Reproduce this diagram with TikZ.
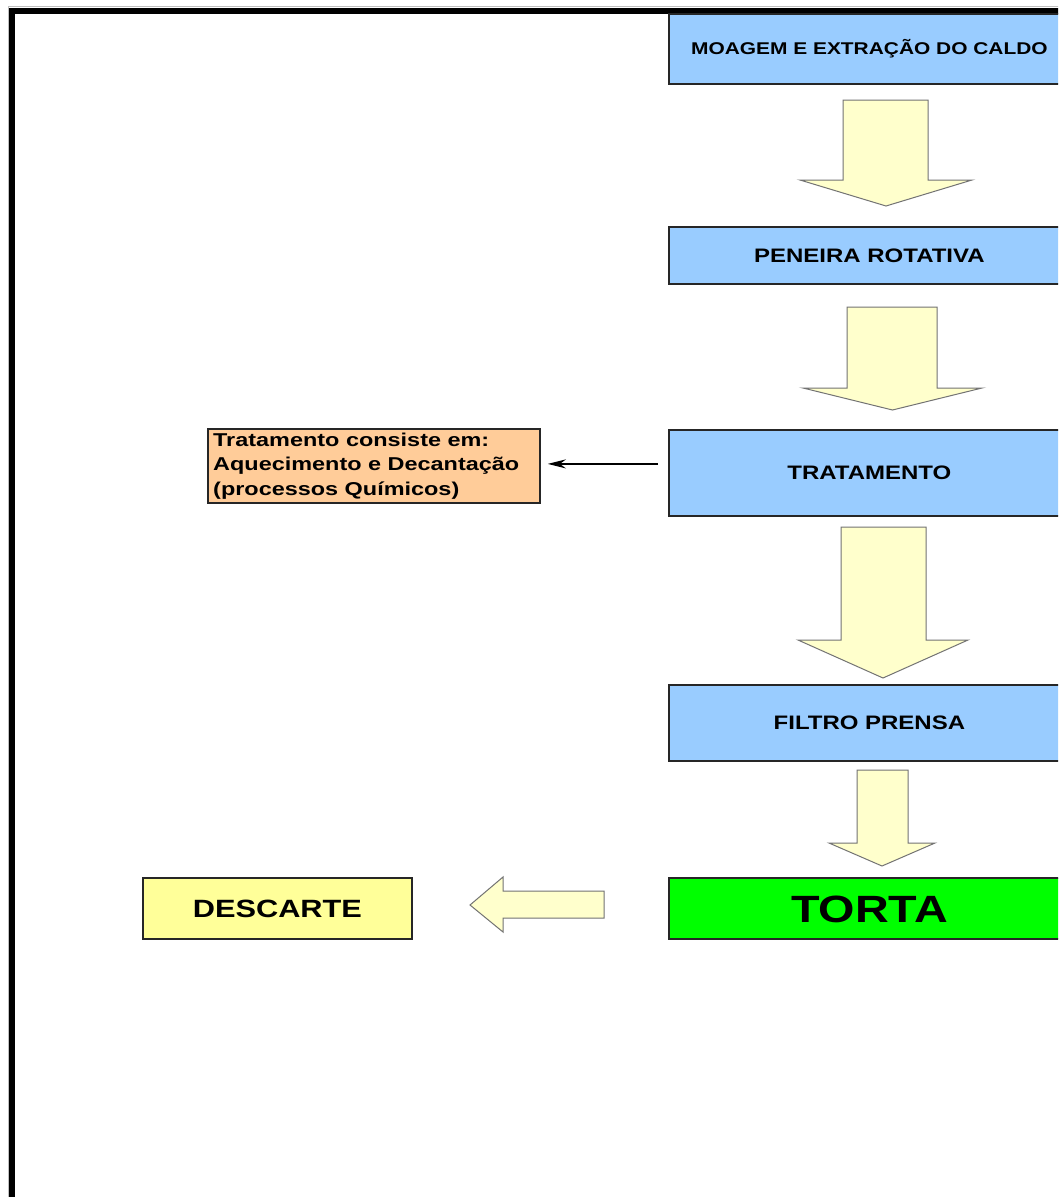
\documentclass[tikz,border=0pt]{standalone}
\usepackage{fontspec}
\setmainfont{Liberation Sans}
\usepackage{graphicx}
\usetikzlibrary{arrows.meta}
\definecolor{boxblue}{HTML}{99CCFF}
\definecolor{arrowfill}{HTML}{FFFFCC}
\definecolor{infofill}{HTML}{FFCC99}
\definecolor{descfill}{HTML}{FFFF99}
\definecolor{tortafill}{HTML}{00FF00}
\newcommand\widetxt[1]{\scalebox{1.23}[1]{#1}}
% down block arrow: x1 x2 (shaft), ytop, ybase, hx1 hx2 (head), ytip
\newcommand\blockdown[7]{%
  \draw[blockarrow] (#1,#3) -- (#2,#3) -- (#2,#4) -- (#6,#4) -- ({(#5+#6)/2},#7)
    -- (#5,#4) -- (#1,#4) -- cycle;}
\begin{document}
\begin{tikzpicture}[x=1pt,y=-1pt,
  stagebox/.style={draw=black!85, line width=1.8pt, fill=boxblue, inner sep=0pt,
    anchor=north west, minimum width=401pt, text depth=0pt},
  capfont/.style={font=\fontsize{#1}{#1}\selectfont\bfseries, text height=0.716*#1 pt},
  blockarrow/.style={draw=black!55, line width=1pt, fill=arrowfill, line join=miter},
  thinarrow/.style={line width=2.2pt, -{Stealth[length=18pt,width=9pt]}},
]
\useasboundingbox (0,0) rectangle (1058,1197);
\clip (0,0) rectangle (1058,1197);
\fill[white] (0,0) rectangle (1058,1197);
% frame
\draw[black!25, line width=1pt] (8,1210) -- (8,6.5) -- (1070,6.5);
\draw[line width=6pt] (12,1210) -- (12,10.5) -- (1070,10.5);

% stage boxes
\node[stagebox, minimum height=70pt, capfont=17] (moagem) at (668,13)
  {\widetxt{MOAGEM E EXTRAÇÃO DO CALDO}};
\node[stagebox, minimum height=57pt, capfont=19.5] (peneira) at (668,226)
  {\widetxt{PENEIRA ROTATIVA}};
\node[stagebox, minimum height=86pt, capfont=19.5] (trat) at (668,429)
  {\widetxt{TRATAMENTO}};
\node[stagebox, minimum height=76pt, capfont=19.5] (filtro) at (668,684)
  {\widetxt{FILTRO PRENSA}};
\node[stagebox, fill=tortafill, minimum height=61pt, capfont=38] (torta) at (668,877)
  {\widetxt{TORTA}};
\node[stagebox, fill=descfill, minimum width=269pt, minimum height=61pt, capfont=25] (desc) at (142,877)
  {\widetxt{DESCARTE}};

% info box
\node[draw=black!85, line width=1.8pt, fill=infofill, anchor=north west,
  minimum width=332pt, minimum height=74pt, inner sep=0pt] (info) at (207,428) {};
\node[anchor=west, inner sep=0pt, font=\fontsize{18.6}{24.5}\selectfont\bfseries] (infotext)
  at ([xshift=6pt]info.west)
  {\scalebox{1.26}[1]{\begin{tabular}{@{}l@{}}Tratamento consiste em:\\Aquecimento e Decantação\\(processos Químicos)\end{tabular}}};

% thin arrow
\draw[thinarrow, shorten <=10pt, shorten >=7pt]
  ([yshift=9pt]trat.west) -- ([yshift=9pt]trat.west -| info.east);

% block arrows
\blockdown{843}{928}{100}{180}{800}{972}{206}
\blockdown{847}{937}{307}{388}{803}{982}{410}
\blockdown{841}{926}{527}{640}{798}{968}{678}
\blockdown{857}{908}{770}{843}{829}{935}{866}
\draw[blockarrow] (604,891) -- (604,918) -- (503,918) -- (503,932) -- (470,905)
  -- (503,877) -- (503,891) -- cycle;
\end{tikzpicture}
\end{document}
